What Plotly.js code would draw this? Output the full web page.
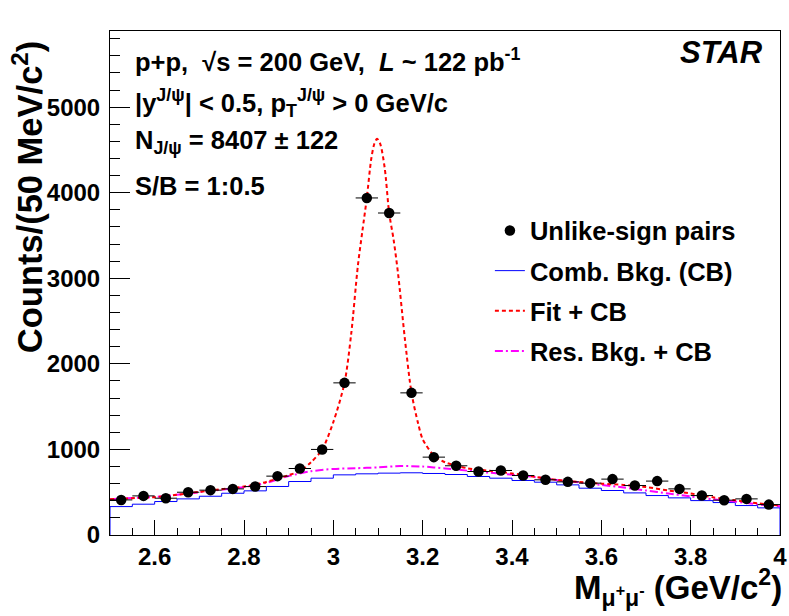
<!DOCTYPE html>
<html>
<head>
<meta charset="utf-8">
<script src="https://cdn.plot.ly/plotly-3.0.1.min.js"></script>
<style>html,body{margin:0;padding:0;background:#fff;}#chart{width:789px;height:616px;}</style>
</head>
<body>
<div id="chart"></div>
<script>
// ---- data ----
const binCenters = [2.525,2.575,2.625,2.675,2.725,2.775,2.825,2.875,2.925,2.975,
                    3.025,3.075,3.125,3.175,3.225,3.275,3.325,3.375,3.425,3.475,
                    3.525,3.575,3.625,3.675,3.725,3.775,3.825,3.875,3.925,3.975];
const binHalfWidth = 0.025;
const unlikeSign = [410,457,430,500,524,539,566,688,777,1000,
                    1778,3939,3763,1661,910,809,742,754,695,645,
                    621,606,653,578,630,539,461,407,422,355];
const combBkg = [332,360,391,422,453,488,516,567,625,664,
                 703,715,723,727,719,707,684,664,637,617,
                 586,547,520,492,461,434,402,379,344,317];
const fitX = [2.50,2.55,2.60,2.65,2.70,2.75,2.80,2.85,2.90,2.925,2.95,2.975,3.00,3.025,3.04,3.055,3.065,3.075,3.085,3.092,3.098,3.105,3.115,3.125,3.135,3.145,3.16,3.175,3.19,3.20,3.225,3.25,3.30,3.35,3.40,3.45,3.50,3.55,3.60,3.65,3.70,3.75,3.80,3.85,3.90,3.95,4.00];
const fitY = [418,430,442,470,505,535,566,620,700,745,850,1000,1320,1778,2350,3150,3550,3940,4400,4575,4630,4570,4290,3763,3450,3050,2300,1661,1300,1120,930,850,780,750,720,680,645,620,600,585,560,520,485,440,405,370,345];
const resX = [2.50,2.55,2.60,2.65,2.70,2.75,2.80,2.85,2.90,2.95,3.00,3.05,3.10,3.15,3.20,3.25,3.30,3.35,3.40,3.45,3.50,3.55,3.60,3.65,3.70,3.75,3.80,3.85,3.90,3.95,4.00];
const resY = [418,432,445,470,500,530,560,610,688,745,772,780,790,805,800,778,752,728,705,678,643,615,585,555,520,485,450,418,390,358,335];
const xTickVals = [2.6,2.8,3.0,3.2,3.4,3.6,3.8,4.0];
const xTickText = ["2.6","2.8","3","3.2","3.4","3.6","3.8","4"];
const yTickVals = [0,1000,2000,3000,4000,5000];
const yTickText = ["0","1000","2000","3000","4000","5000"];
const xRange = [2.5, 4.0];
const yRange = [0, 5890];

// ---- build histogram step outline ----
const stepX = [xRange[0]], stepY = [0];
for (let i = 0; i < binCenters.length; i++) {
  stepX.push(binCenters[i] - binHalfWidth);
  stepY.push(combBkg[i]);
}
stepX.push(xRange[1]); stepY.push(combBkg[combBkg.length - 1]);
stepX.push(xRange[1]); stepY.push(0);

const FONT = "Liberation Sans, Arial, Helvetica, sans-serif";

const traces = [
  { x: stepX, y: stepY, type: 'scatter', mode: 'lines', name: 'Comb. Bkg. (CB)',
    line: { shape: 'hv', color: '#0000ff', width: 1 }, legendrank: 2, legendgroup: 'b' },
  { x: resX, y: resY, type: 'scatter', mode: 'lines', name: 'Res. Bkg. + CB',
    line: { shape: 'spline', smoothing: 0.8, color: '#ff00ff', width: 2, dash: '8px,3px,2px,3px' },
    legendrank: 4, legendgroup: 'd' },
  { x: fitX, y: fitY, type: 'scatter', mode: 'lines', name: 'Fit + CB',
    line: { shape: 'spline', smoothing: 0.8, color: '#ff0000', width: 2, dash: '4px,3px' },
    legendrank: 3, legendgroup: 'c' },
  { x: binCenters, y: unlikeSign, type: 'scatter', mode: 'markers', name: 'Unlike-sign pairs',
    marker: { color: '#000000', size: 10.5, symbol: 'circle' },
    error_x: { type: 'constant', value: binHalfWidth, width: 0, thickness: 1, color: '#000000' },
    legendrank: 1, legendgroup: 'a' }
];

const annFont = { family: FONT, size: 25.5, color: '#000', weight: 'bold' };
const layout = {
  width: 789, height: 616,
  margin: { l: 110, r: 9, t: 31, b: 81, pad: 0 },
  paper_bgcolor: '#ffffff', plot_bgcolor: '#ffffff',
  showlegend: true,
  legend: { x: 0.567, y: 0.650, xanchor: 'left', yanchor: 'top', bgcolor: 'rgba(0,0,0,0)',
            font: { family: FONT, size: 25.5, color: '#000', weight: 'bold' }, tracegroupgap: 4,
            traceorder: 'grouped' },
  xaxis: {
    range: xRange, tickmode: 'array', tickvals: xTickVals, ticktext: xTickText,
    ticks: 'inside', ticklen: 15, tickwidth: 1, tickcolor: '#000',
    showline: true, linecolor: '#000', linewidth: 1, mirror: true,
    showgrid: false, zeroline: false, ticklabelstandoff: 0,
    tickfont: { family: FONT, size: 24, color: '#000', weight: 'bold' },
    minor: { ticks: 'inside', ticklen: 7, tickwidth: 1, tickcolor: '#000', dtick: 0.05, tick0: 2.5, showgrid: false }
  },
  yaxis: {
    range: yRange, tickmode: 'array', tickvals: yTickVals, ticktext: yTickText,
    ticks: 'inside', ticklen: 20, tickwidth: 1, tickcolor: '#000',
    showline: true, linecolor: '#000', linewidth: 1, mirror: true,
    showgrid: false, zeroline: false, ticklabelstandoff: 4,
    tickfont: { family: FONT, size: 24, color: '#000', weight: 'bold' },
    minor: { ticks: 'inside', ticklen: 10, tickwidth: 1, tickcolor: '#000', dtick: 200, tick0: 0, showgrid: false }
  },
  annotations: [
    { xref: 'paper', yref: 'paper', x: 0.034, y: 0.9425, xanchor: 'left', yanchor: 'middle', showarrow: false,
      text: 'p+p,  √s = 200 GeV,  <i>L</i> ~ 122 pb<sup>-1</sup>', font: annFont },
    { xref: 'paper', yref: 'paper', x: 0.034, y: 0.857, xanchor: 'left', yanchor: 'middle', showarrow: false,
      text: '|y<sup>J/ψ</sup>| &lt; 0.5, p<sub>T</sub><sup>J/ψ</sup> &gt; 0 GeV/c', font: annFont },
    { xref: 'paper', yref: 'paper', x: 0.034, y: 0.780, xanchor: 'left', yanchor: 'middle', showarrow: false,
      text: 'N<sub>J/ψ</sub> = 8407 ± 122', font: annFont },
    { xref: 'paper', yref: 'paper', x: 0.034, y: 0.6925, xanchor: 'left', yanchor: 'middle', showarrow: false,
      text: 'S/B = 1:0.5', font: annFont },
    { xref: 'paper', yref: 'paper', x: 0.978, y: 0.958, xanchor: 'right', yanchor: 'middle', showarrow: false,
      text: '<i>STAR</i>', font: { family: FONT, size: 31, color: '#000', weight: 'bold' } },
    { xref: 'paper', yref: 'paper', x: -0.124, y: 0.672, xanchor: 'center', yanchor: 'middle', showarrow: false,
      textangle: -90, text: 'Counts/(50 MeV/c<sup>2</sup>)', font: { family: FONT, size: 34.5, color: '#000', weight: 'bold' } },
    { xref: 'paper', yref: 'paper', x: 1.006, y: -0.105, xanchor: 'right', yanchor: 'middle', showarrow: false,
      text: 'M<sub>μ<sup>+</sup>μ<sup>-</sup></sub> (GeV/c<sup>2</sup>)', font: { family: FONT, size: 33, color: '#000', weight: 'bold' } }
  ]
};

Plotly.newPlot('chart', traces, layout, { displayModeBar: false, staticPlot: true });
</script>
</body>
</html>
